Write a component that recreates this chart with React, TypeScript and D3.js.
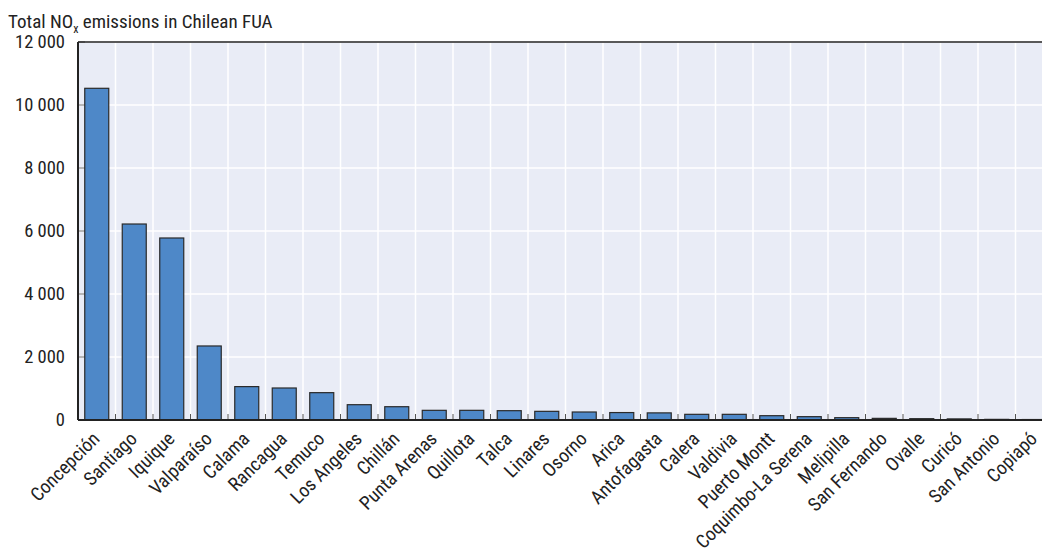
import React from "react";
import * as d3 from "d3";

const categories = [
  "Concepción", "Santiago", "Iquique", "Valparaíso", "Calama", "Rancagua", "Temuco",
  "Los Angeles", "Chillán", "Punta Arenas", "Quillota", "Talca", "Linares", "Osorno",
  "Arica", "Antofagasta", "Calera", "Valdivia", "Puerto Montt", "Coquimbo-La Serena",
  "Melipilla", "San Fernando", "Ovalle", "Curicó", "San Antonio", "Copiapó",
];
const values = [
  10530, 6222, 5778, 2350, 1060, 1016, 868, 486, 422, 307, 307, 296, 275, 254,
  236, 226, 180, 180, 137, 106, 74, 52, 42, 35, 20, 15,
];
const yTicks = [0, 2000, 4000, 6000, 8000, 10000, 12000];

const W = 1042;
const H = 551;
const left = 78;
const top = 42;
const bottom = 420;
const band = 37.5;
const FONT = "'Roboto Condensed', 'Liberation Sans Narrow', 'Arial Narrow', 'Liberation Sans', sans-serif";

export default function App() {
  const x = d3
    .scaleBand<string>()
    .domain(categories)
    .range([left, left + band * categories.length])
    .paddingInner(0.36)
    .paddingOuter(0.18);
  const y = d3.scaleLinear().domain([0, 12000]).range([bottom, top]);
  const fmt = (v: number) => d3.format(",")(v).replace(/,/g, " ");
  const boundaries = d3.range(categories.length + 1).map((i) => left + band * i);

  return (
    <svg width={W} height={H} style={{ position: "absolute", left: 0, top: 0 }} fontFamily={FONT}>
      <rect x={0} y={0} width={W} height={H} fill="#ffffff" />
      <rect x={left} y={top} width={W - left} height={bottom - top} fill="#e9ecf6" />
      {yTicks.map((t) => (
        <line key={"hg" + t} x1={left} x2={W} y1={y(t)} y2={y(t)} stroke="#ffffff" strokeWidth={1.5} />
      ))}
      {boundaries.slice(1).map((b, i) => (
        <line key={"vg" + i} x1={b} x2={b} y1={top} y2={bottom} stroke="#ffffff" strokeWidth={1.5} />
      ))}
      {yTicks.map((t) => (
        <line key={"yt" + t} x1={left} x2={left + 7} y1={y(t)} y2={y(t)} stroke="#888" strokeWidth={1.2} />
      ))}
      {boundaries.slice(1).map((b, i) => (
        <line key={"xt" + i} x1={b} x2={b} y1={bottom - 6} y2={bottom} stroke="#555" strokeWidth={1} />
      ))}
      {categories.map((c, i) => (
        <rect
          key={c}
          x={x(c)}
          y={y(values[i])}
          width={x.bandwidth()}
          height={bottom - y(values[i])}
          fill="#4e88c8"
          stroke="#2a2a2a"
          strokeWidth={1.2}
        />
      ))}
      <line x1={left} x2={W} y1={top} y2={top} stroke="#222" strokeWidth={1.5} />
      <line x1={left} x2={left} y1={top} y2={bottom} stroke="#222" strokeWidth={2} />
      <line x1={left} x2={W} y1={bottom} y2={bottom} stroke="#222" strokeWidth={2} />
      {yTicks.map((t) => (
        <text key={"yl" + t} x={65} y={y(t)} dy="0.35em" textAnchor="end" fontSize={18.5} fill="#222">
          {fmt(t)}
        </text>
      ))}
      {categories.map((c) => {
        const cx = (x(c) as number) + x.bandwidth() / 2 + 4;
        const cy = bottom + 20;
        return (
          <text
            key={"xl" + c}
            transform={`translate(${cx},${cy}) rotate(-45)`}
            textAnchor="end"
            fontSize={19}
            fill="#222"
          >
            {c}
          </text>
        );
      })}
      <text x={8} y={28} fontSize={19} fill="#222">
        Total NO
        <tspan fontSize={12} dy={5}>x</tspan>
        <tspan dy={-5}> emissions in Chilean FUA</tspan>
      </text>
    </svg>
  );
}
